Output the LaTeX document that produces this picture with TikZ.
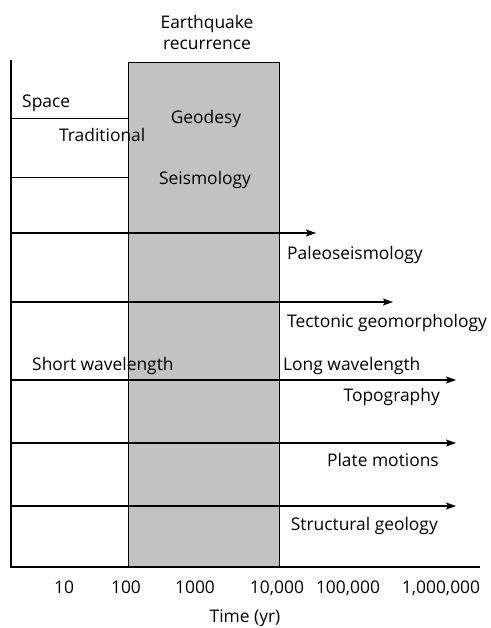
\documentclass[tikz,border=0pt]{standalone}
\usepackage{fontspec}
\setmainfont{Open Sans}
\usetikzlibrary{arrows.meta, positioning, calc}

\begin{document}
\begin{tikzpicture}[
    x=1pt, y=-1pt,
    lbl/.style={font=\fontsize{17.4}{21}\selectfont, inner sep=0pt},
    track/.style={-{Stealth[length=10pt, width=7pt, inset=2pt]}, line width=1.1pt},
    rule/.style={line width=0.9pt},
    axis/.style={line width=1.6pt}
]
\useasboundingbox (0,0) rectangle (490,628);

% Earthquake recurrence window
\node[draw=black, line width=1pt, fill=black!24, minimum width=151pt, minimum height=505pt,
      anchor=north west, inner sep=0pt] (window) at (128,62) {};
\node[lbl, align=center, anchor=south] (eqtitle) at (207,50) {Earthquake\\recurrence};

% Axes
\coordinate (top) at (11,60);
\coordinate (origin) at (11,567);
\coordinate (tend) at (480,567);
\draw[axis] (top) -- (origin) -- (tend);

% Short lines up to window
\coordinate (s1) at (11,118);
\coordinate (s2) at (11,177);
\draw[rule] (s1) -- (s1 -| window.west);
\draw[rule] (s2) -- (s2 -| window.west);

% Arrows
\coordinate (a1) at (11,233); \coordinate (b1) at (316,233);
\coordinate (a2) at (11,302); \coordinate (b2) at (393,302);
\coordinate (a3) at (11,380); \coordinate (b3) at (456,380);
\coordinate (a4) at (11,443); \coordinate (b4) at (456,443);
\coordinate (a5) at (11,506); \coordinate (b5) at (456,506);
\draw[track] (a1) -- (b1);
\draw[track] (a2) -- (b2);
\draw[track] (a3) -- (b3);
\draw[track] (a4) -- (b4);
\draw[track] (a5) -- (b5);

% Labels
\node[lbl, anchor=base west] (space) at (22,108) {Space};
\node[lbl, anchor=base west] (trad) at (59,142) {Traditional};
\node[lbl, anchor=base] (geod) at (206,124) {Geodesy};
\node[lbl, anchor=base] (seis) at (205,185) {Seismology};
\node[lbl, anchor=base west] (paleo) at (287,259) {Paleoseismology};
\node[lbl, anchor=base west] (tecto) at (287,327) {Tectonic geomorphology};
\node[lbl, anchor=base west] (shortw) at (32,370) {Short wavelength};
\node[lbl, anchor=base west] (longw) at (283,370) {Long wavelength};
\node[lbl, anchor=base east] (topo) at (440,401) {Topography};
\node[lbl, anchor=base east] (plate) at (439,466) {Plate motions};
\node[lbl, anchor=base east] (struct) at (438,530) {Structural geology};

% Time axis ticks
\node[lbl, anchor=base] (t1) at (64,593) {10};
\node[lbl, anchor=base] (t2) at (126,593) {100};
\node[lbl, anchor=base] (t3) at (195,593) {1000};
\node[lbl, anchor=base] (t4) at (277,593) {10,000};
\node[lbl, anchor=base] (t5) at (348,593) {100,000};
\node[lbl, anchor=base] (t6) at (441,593) {1,000,000};
\node[lbl, anchor=base] (tlabel) at (245,622) {Time (yr)};

\end{tikzpicture}
\end{document}
